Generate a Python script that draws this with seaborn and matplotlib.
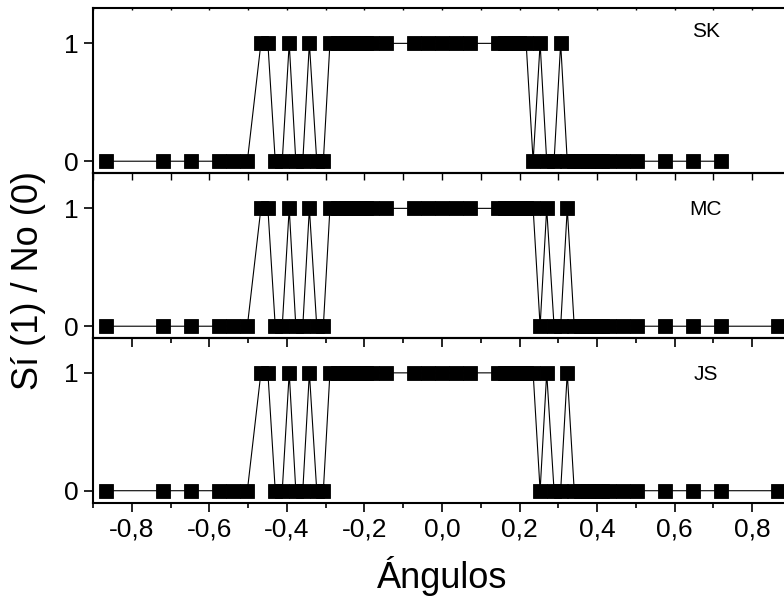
import numpy as np
import pandas as pd
import matplotlib
matplotlib.use("Agg")
import matplotlib.pyplot as plt
from matplotlib.ticker import MultipleLocator, FuncFormatter
import seaborn as sns

sns.set_style("ticks")
plt.rcParams['font.family'] = ['Liberation Sans', 'DejaVu Sans']
plt.rcParams['text.color'] = 'black'
plt.rcParams['xtick.color'] = 'black'
plt.rcParams['ytick.color'] = 'black'
plt.rcParams['axes.labelcolor'] = 'black'

# angles shared on the negative side (same for all three subjects)
x_left = [-0.866, -0.719, -0.647, -0.574, -0.538, -0.502, -0.467, -0.449, -0.430, -0.412,
          -0.394, -0.377, -0.359, -0.342, -0.323, -0.306, -0.289, -0.269, -0.251, -0.233,
          -0.215, -0.197, -0.181, -0.145, -0.072, -0.036, 0.0, 0.036, 0.072]
y_left = [0, 0, 0, 0, 0, 0, 1, 1, 0, 0,
          1, 0, 0, 1, 0, 0, 1, 1, 1, 1,
          1, 1, 1, 1, 1, 1, 1, 1, 1]

x_sk_right = [0.145, 0.163, 0.181, 0.199, 0.217, 0.235, 0.253, 0.270, 0.289, 0.306,
              0.323, 0.341, 0.359, 0.377, 0.395, 0.413, 0.431, 0.467, 0.503, 0.576,
              0.648, 0.719]
y_sk_right = [1, 1, 1, 1, 1, 0, 1, 0, 0, 1,
              0, 0, 0, 0, 0, 0, 0, 0, 0, 0,
              0, 0]

x_mc_right = [0.145, 0.163, 0.181, 0.199, 0.217, 0.235, 0.253, 0.270, 0.289, 0.306,
              0.323, 0.341, 0.359, 0.377, 0.395, 0.413, 0.431, 0.467, 0.503, 0.576,
              0.648, 0.719, 0.866]
y_mc_right = [1, 1, 1, 1, 1, 1, 0, 1, 0, 0,
              1, 0, 0, 0, 0, 0, 0, 0, 0, 0,
              0, 0, 0]

x_js_right = list(x_mc_right)
y_js_right = list(y_mc_right)

labels = ["SK", "MC", "JS"]
label_y = [1.10, 0.99, 0.99]
series = [(x_left + x_sk_right, y_left + y_sk_right),
          (x_left + x_mc_right, y_left + y_mc_right),
          (x_left + x_js_right, y_left + y_js_right)]

fig = plt.figure(figsize=(7.84, 6.0), dpi=100)
W, H = 784, 600
left, right = 93, 791
tops = [8, 173, 337.5]
ph = 165

def fmt(v, pos):
    return ("%.1f" % v).replace(".", ",")

for i, (xs, ys) in enumerate(series):
    t = tops[i]
    ax = fig.add_axes([left / W, 1 - (t + ph) / H, (right - left) / W, ph / H])
    ax.set_facecolor('none')
    df = pd.DataFrame({"x": xs, "y": ys})
    sns.lineplot(data=df, x="x", y="y", ax=ax, sort=False, estimator=None,
                 color="black", linewidth=0.8, marker="s", markersize=9.6,
                 markeredgecolor="black", markeredgewidth=0.6)
    ax.set_xlim(-0.9, 0.9)
    ax.set_ylim(-0.1, 1.3)
    ax.set_yticks([0, 1])
    ax.set_xlabel("")
    ax.set_ylabel("")
    for s in ax.spines.values():
        s.set_visible(True)
        s.set_linewidth(1.5)
        s.set_color("black")
    ax.tick_params(axis='y', which='major', direction='out', length=6.5, width=1.2,
                   labelsize=19, pad=4, right=False)
    ax.tick_params(axis='y', which='minor', left=False, right=False)
    ax.xaxis.set_major_locator(MultipleLocator(0.2))
    ax.xaxis.set_minor_locator(MultipleLocator(0.1))
    ax.xaxis.set_major_formatter(FuncFormatter(fmt))
    if i == 0:
        ax.tick_params(axis='x', which='both', top=True, bottom=False, direction='in',
                       length=1.5, width=1.0, labelbottom=False)
    elif i == 1:
        ax.tick_params(axis='x', which='both', top=True, bottom=False, direction='in',
                       length=5, width=1.0, labelbottom=False)
    else:
        ax.tick_params(axis='x', which='both', top=True, direction='in', length=5, width=1.0)
        ax.tick_params(axis='x', which='major', bottom=True, labelbottom=True, length=6.5,
                       width=1.2, labelsize=19, pad=11)
        ax.tick_params(axis='x', which='minor', bottom=True, length=3.5, width=1.2)
        # bottom ticks point outward, top ticks inward
        for tk in ax.xaxis.get_major_ticks() + ax.xaxis.get_minor_ticks():
            tk.tick1line.set_marker(matplotlib.lines.TICKDOWN)
            tk.tick2line.set_marker(matplotlib.lines.TICKDOWN)
    ax.text(0.68, label_y[i], labels[i], fontsize=15, ha='center', va='center')

fig.text(29 / W, 1 - 280 / H, "Sí (1) / No (0)", rotation=90, fontsize=26,
         ha='center', va='center')
fig.text(442 / W, 1 - 576 / H, "Ángulos", fontsize=26, ha='center', va='center')

fig.savefig("out.png", dpi=100)
